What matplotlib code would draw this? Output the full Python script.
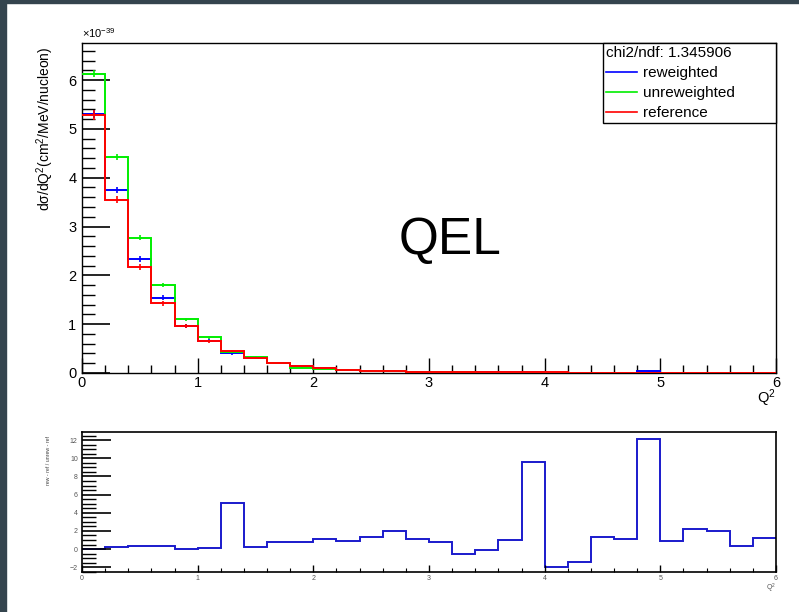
import numpy as np
import matplotlib
matplotlib.use("Agg")
import matplotlib.pyplot as plt
from matplotlib.lines import Line2D
from matplotlib.patches import Rectangle
from matplotlib.ticker import MultipleLocator

plt.rcParams["font.family"] = ["Liberation Sans", "DejaVu Sans"]
plt.rcParams["mathtext.fontset"] = "custom"
plt.rcParams["mathtext.rm"] = "Liberation Sans"
plt.rcParams["mathtext.it"] = "Liberation Sans:italic"
plt.rcParams["mathtext.bf"] = "Liberation Sans:bold"

# ---------------- data (cross sections in units of 1e-39) ----------------
bin_edges = [round(0.2 * i, 1) for i in range(31)]

reference = [5.28, 3.55, 2.17, 1.43, 0.97, 0.65, 0.45, 0.30, 0.20, 0.15,
             0.10, 0.07, 0.05, 0.05, 0.03, 0.03, 0.03, 0.015, 0.015, 0.012,
             0.012, 0.01, 0.01, 0.01, 0.01, 0.01, 0.008, 0.008, 0.008, 0.008]
reweighted = [5.30, 3.75, 2.34, 1.54, 0.97, 0.66, 0.40, 0.31, 0.20, 0.14,
              0.10, 0.07, 0.05, 0.05, 0.03, 0.03, 0.03, 0.015, 0.015, 0.015,
              0.01, 0.01, 0.01, 0.01, 0.035, 0.01, 0.008, 0.008, 0.008, 0.008]
unreweighted = [6.13, 4.42, 2.77, 1.80, 1.10, 0.73, 0.43, 0.32, 0.21, 0.11,
                0.09, 0.06, 0.05, 0.04, 0.03, 0.03, 0.03, 0.006, 0.006, 0.006,
                0.008, 0.008, 0.008, 0.008, 0.006, 0.006, 0.006, 0.006, 0.006, 0.006]
ref_err = [0.10, 0.07, 0.06, 0.05, 0.04, 0.03, 0.03, 0.02, 0.02, 0.015,
           0.01, 0.01, 0.01, 0.01, 0.008, 0.008, 0.008, 0.005, 0.005, 0.005,
           0.005, 0.005, 0.005, 0.005, 0.005, 0.005, 0.005, 0.005, 0.005, 0.005]
rew_err = [0.08, 0.07, 0.06, 0.05, 0.04, 0.03, 0.03, 0.02, 0.02, 0.015,
           0.01, 0.01, 0.01, 0.01, 0.008, 0.008, 0.008, 0.005, 0.005, 0.005,
           0.005, 0.005, 0.005, 0.005, 0.01, 0.005, 0.005, 0.005, 0.005, 0.005]
unrew_err = [0.07, 0.06, 0.05, 0.04, 0.03, 0.03, 0.02, 0.02, 0.015, 0.01,
             0.01, 0.01, 0.01, 0.01, 0.008, 0.008, 0.008, 0.005, 0.005, 0.005,
             0.005, 0.005, 0.005, 0.005, 0.005, 0.005, 0.005, 0.005, 0.005, 0.005]

ratio = [0.0, 0.26, 0.37, 0.37, -0.04, 0.11, 5.03, 0.22, 0.81, 0.81,
         1.06, 0.92, 1.28, 1.94, 1.06, 0.77, -0.59, -0.11, 1.03, 9.54,
         -1.94, -1.39, 1.36, 1.14, 12.18, 0.88, 2.17, 1.94, 0.33, 1.25]

chi2_text = "chi2/ndf: 1.345906"
series_labels = ["reweighted", "unreweighted", "reference"]
series_colors = ["#0000ff", "#00ee00", "#ff0000"]

# ---------------- figure ----------------
W, H = 799, 612
fig = plt.figure(figsize=(W / 100, H / 100), dpi=100)
fig.patch.set_facecolor("white")

# dark frame strips (left and top)
fig.add_artist(Rectangle((0, 0), 6 / W, 1, transform=fig.transFigure,
                         color="#34444e", zorder=10))
fig.add_artist(Rectangle((0, 1 - 3 / H), 1, 3 / H, transform=fig.transFigure,
                         color="#34444e", zorder=10))

def frac(x0, y0, x1, y1):
    return [x0 / W, 1 - y1 / H, (x1 - x0) / W, (y1 - y0) / H]

ax = fig.add_axes(frac(82, 43, 776, 373))
axr = fig.add_axes(frac(82, 432, 776, 572))

edges = np.array(bin_edges)
centers = 0.5 * (edges[:-1] + edges[1:])

series = [(reweighted, rew_err), (unreweighted, unrew_err), (reference, ref_err)]
order = [1, 0, 2]
for i in order:
    vals, err = series[i]
    ax.stairs(vals, edges, color=series_colors[i], linewidth=1.4,
              baseline=None, zorder=2 + i)
    ax.errorbar(centers, vals, yerr=err, fmt="none", ecolor=series_colors[i],
                elinewidth=1.2, capsize=0, zorder=2 + i)

ax.set_xlim(0, 6)
ax.set_ylim(0, 6.76)
ax.xaxis.set_major_locator(MultipleLocator(1))
ax.xaxis.set_minor_locator(MultipleLocator(0.2))
ax.yaxis.set_major_locator(MultipleLocator(1))
ax.yaxis.set_minor_locator(MultipleLocator(0.2))
ax.tick_params(axis="both", which="both", direction="in", top=False, right=False,
               labelsize=10.5, colors="black")
ax.tick_params(axis="y", which="major", length=20, width=1.2, pad=4)
ax.tick_params(axis="y", which="minor", length=9, width=1.0)
ax.tick_params(axis="x", which="major", length=11, width=1.0, pad=2)
ax.tick_params(axis="x", which="minor", length=6, width=1.0)
for s in ax.spines.values():
    s.set_linewidth(1.0)
ax.set_ylabel("d\u03c3/dQ$^{2}$(cm$^{2}$/MeV/nucleon)", fontsize=10, loc="top")
ax.yaxis.set_label_coords(-0.038, 0.99)
ax.text(0.0, 1.008, r"$\times$10$^{-39}$", transform=ax.transAxes,
        ha="left", va="bottom", fontsize=8)
ax.text(1.0, -0.045, r"Q$^{2}$", transform=ax.transAxes,
        ha="right", va="top", fontsize=10.5)
ax.text(3.18, 2.72, "QEL", fontsize=37, ha="center", va="center")

handles = [Line2D([0], [0], color=c, lw=1.2) for c in series_colors]
x0, x1 = (603 - 82) / 694, 1.0
leg = ax.legend(handles, series_labels, title=chi2_text, loc="upper left",
                bbox_to_anchor=(x0, 0.0, x1 - x0, 1.0), mode="expand",
                borderaxespad=0.0, fontsize=11, title_fontsize=11,
                frameon=True, fancybox=False,
                edgecolor="black", framealpha=1.0, handlelength=2.0,
                handletextpad=0.45, labelspacing=0.4, borderpad=0.2,
                alignment="left")
leg.get_frame().set_linewidth(1.0)

# ---------------- ratio panel ----------------
axr.stairs(ratio, edges, color="#1a1acc", linewidth=1.4, baseline=None)
axr.set_xlim(0, 6)
axr.set_ylim(-2.53, 12.9)
axr.xaxis.set_major_locator(MultipleLocator(1))
axr.xaxis.set_minor_locator(MultipleLocator(0.2))
axr.yaxis.set_major_locator(MultipleLocator(2))
axr.yaxis.set_minor_locator(MultipleLocator(0.5))
axr.tick_params(axis="both", which="both", direction="in", top=False, right=False,
                labelsize=5, labelcolor="#555555")
axr.tick_params(axis="y", which="major", length=21, width=1.2, pad=3)
axr.tick_params(axis="y", which="minor", length=10, width=1.0)
axr.tick_params(axis="x", which="major", length=5, width=1.0, pad=2)
axr.tick_params(axis="x", which="minor", length=3, width=0.8)
for s in axr.spines.values():
    s.set_linewidth(1.2)
axr.set_ylabel("rew - ref / unrew - ref", fontsize=3.8, loc="top", color="#444444")
axr.yaxis.set_label_coords(-0.045, 0.97)
axr.text(1.0, -0.07, r"Q$^{2}$", transform=axr.transAxes,
         ha="right", va="top", fontsize=5, color="#555555")

fig.savefig("out.png", dpi=100)
